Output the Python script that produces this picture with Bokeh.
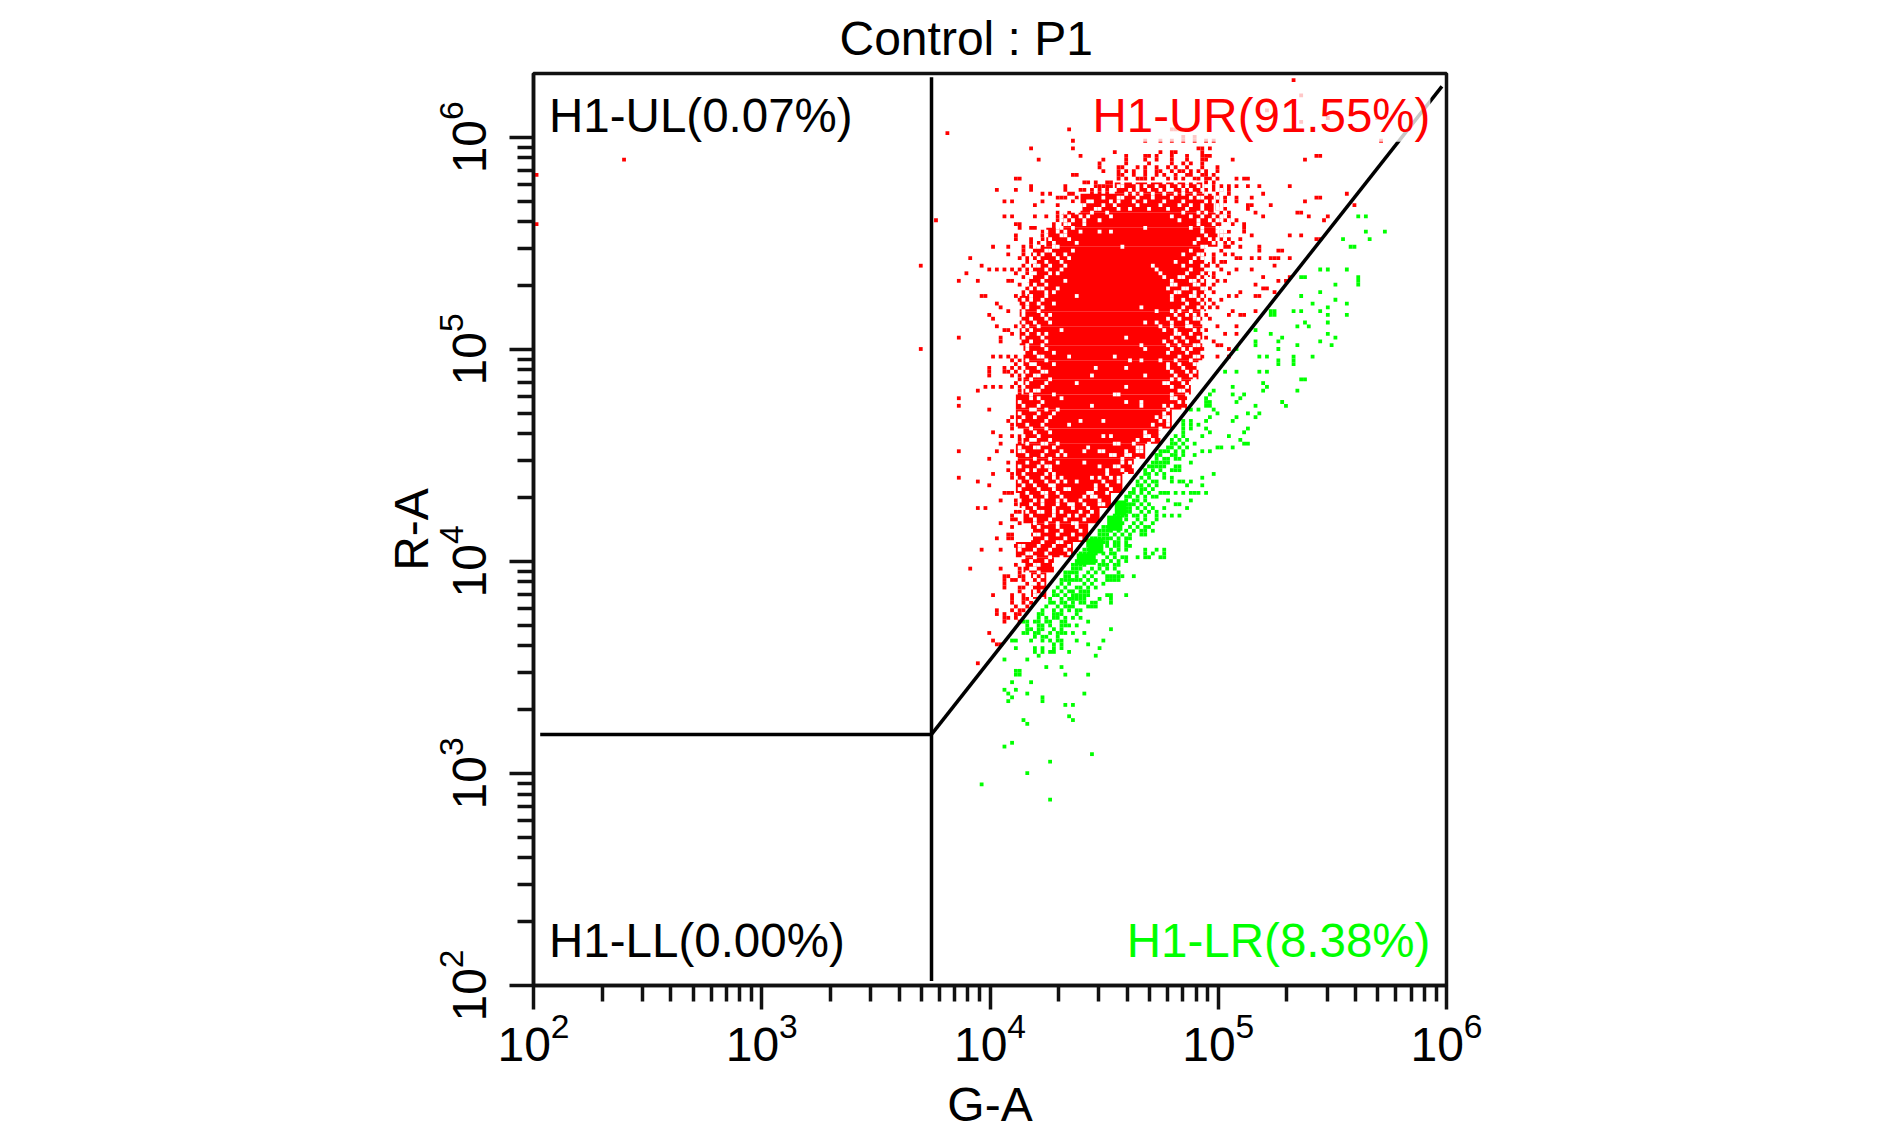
from bokeh.plotting import figure
from bokeh.embed import file_html
from bokeh.resources import INLINE
from bokeh.models import Label, FixedTicker, LogTickFormatter, LogAxis

title_text = "Control : P1"
x_label = "G-A"
y_label = "R-A"
x_range_limits = [1e2, 1e6]
y_range_limits = [1e2, 2e6]
major_ticks_x = [1e2, 1e3, 1e4, 1e5, 1e6]
major_ticks_y = [1e2, 1e3, 1e4, 1e5, 1e6]

# gate lines
gate_vertical_x = [5543, 5543]
gate_vertical_y = [105, 1.92e6]
gate_horizontal_x = [107, 5543]
gate_horizontal_y = [1528, 1528]
gate_diagonal_x = [5543, 9.55e5]
gate_diagonal_y = [1528, 1.74e6]

# events (60 per x decade, 56 per y decade)
CH_X = 60
CH_Y = 56
CH_X0 = 0.8
CH_Y0 = -0.9

# mostly filled part of the red population: left, right, bottom, top channel
red_core_l = [130,128,126,130,128,127,126,126,126,128,126,126,128,128,128,127,127,127,129,130,130,134,138,143,152]
red_core_r = [134,136,141,145,148,151,154,157,160,164,167,171,172,174,175,175,175,176,176,177,176,179,180,178,175]
red_core_b = [103,110,114,118,123,127,131,136,140,144,148,153,157,161,166,170,175,179,183,188,192,196,201,205,210]
red_core_t = [110,114,118,123,127,131,136,140,144,148,153,157,161,166,170,175,179,183,188,192,196,201,205,210,213]

green_core_l = [142, 145, 150, 152]
green_core_r = [147, 149, 154, 155]
green_core_b = [112, 115, 121, 125]
green_core_t = [115, 119, 125, 129]

# empty cells inside the filled part
hole_rows = {
 213:[154,157,161,165,168,171,173,177],212:[153,154,158,160,163,166,169,171,174,176,177,179],211:[152,156,158,161,164,166,167,170,172,175,177,179,180],210:[155,157,159,162,165,168,170,173,176,178,180],
 209:[149,153,154,158,162,167,172,174,175,179],208:[142,145,146,151,153,157,160,165,170,176,178,180],207:[141,143,144,149,152,158,164,169,172,175,179,181],
 206:[140,142,143,147,148,153,156,161,166,171,175,179,180],205:[138,139,142,146,150,170,174,176,179,181],204:[138,140,143,145,151,167,172,175,178,180,181],
 203:[138,139,141,144,148,169,174,177,179,180,182],202:[137,139,140,144,174,178,181,182],201:[137,138,141,160,172,175,179,180,182],200:[132,134,137,139,143,148,151,175,179,180],
 199:[131,134,138,139,176,180,181],198:[131,132,135,140,174,177,179,181],197:[131,133,136,142,173,178,180],196:[131,132,136,137,154,175,176,180],195:[130,134,135,141,172,176,177],
 194:[131,133,136,139,170,174,175],193:[130,132,137,140,173,175,176],192:[130,131,134,138,168,172,176],191:[131,132,135,139,162,170,175],190:[130,134,138,163,172,176,177],
 189:[130,131,135,137,164,171,175,177],188:[129,130,134,165,169,170,174,176],187:[129,133,139,167,172,173,175],186:[129,131,134,167,168,173,174],185:[130,132,133,137,166,170,171,175,176],
 184:[129,134,136,168,169,173,176],183:[130,134,142,167,172,173,175],182:[128,130,133,167,170,174,176],181:[129,132,136,171,175],180:[127,129,133,159,170,174,176],
 179:[128,132,163,167,169,172,175],178:[128,133,135,168,171,173,175],177:[127,130,134,166,169,173,174],176:[128,131,135,160,163,167,171,175],175:[127,129,132,164,167,171,172],
 174:[128,130,138,165,168,173,175],173:[129,132,134,168,169,172],172:[128,133,155,167,170,174],171:[127,130,134,165,168,171,175],170:[129,133,159,166,169,173,174],169:[129,134,160,167,170,172],
 168:[128,131,136,166,171,175],167:[127,132,133,140,152,169,173,174],166:[129,134,156,159,164,168,172],165:[127,130,131,136,166,169,173,174],164:[128,132,147,155,166,170,174],163:[129,133,134,167,171,173],
 162:[128,131,132,146,160,168,172],161:[130,135,167,169,173],160:[129,134,142,165,166,170,172],159:[128,133,155,167,171],158:[129,131,132,169,170],157:[130,136,152,153,167,171],
 156:[130,132,138,167,168],155:[127,133,155,159,169,171],154:[128,132,146,159,165,167],153:[130,131,134,137,166,170],152:[127,132,136,165,169,171],151:[128,131,135,163,165,166],
 150:[127,134,143,149,164,166],149:[129,133,140,162,166],148:[126,130,134,164],147:[127,131,135,160,164],146:[128,132,149,151,160,161,164],145:[130,131,135,158,162],
 144:[129,133,134,137,152,153,157,161],143:[127,131,132,136,145,158,159,163],142:[127,128,134,138,144,148,149,155,158,159],141:[129,133,137,139,151,152,155,156],140:[126,131,135,154,158],
 139:[129,133,137,144,154,156,158],138:[127,132,134,135,148,152,153,157],137:[129,131,135,150,154],136:[128,134,136,150,155],135:[126,129,133,136,138,146,148,151,153],
 134:[127,130,134,137,139,142,149,153],133:[128,131,135,136,147,150],132:[127,132,136,139,140,147,151],131:[129,133,134,137,145,146,150],130:[130,134,138,144,146,147,152],
 129:[127,131,133,137,139,143,148],128:[130,133,137,140,141,144,148,149],127:[128,131,136,141,145],126:[129,132,133,136,138,143,146],125:[130,136,140,142,145],124:[131,135,139,144],
 123:[131,134,137,141,142],122:[132,137,142],121:[130,134,138,143],120:[131,132,137,141],119:[130,134,139,143],118:[133,137,138],117:[127,128,132,136,140],116:[127,131,135,139],
 115:[129,130,134,140],114:[128,131,135,138],113:[130,134],112:[128,131,132,136],111:[130,131],110:[129,132],109:[131,133],108:[130,132],107:[130,131,133],106:[130],105:[129,131,133],104:[131,132],103:[130,133],
}

red_rows = {
 240:[199],236:[201],232:[192],230:[208,221],229:[201],
 227:[140,167,168,169,170,171,172],226:[108],225:[170,173],
 224:[141,160,164,167,170,173,176,178,222],222:[130,141,174,175,177],221:[152,164,167,168,175],
 220:[143,155,160,161,163,167,171,175,176,177,205,206],219:[23,132,149,155,160,163,167,171,175,176,183,202],
 218:[148,155,161,167,170,172,175],217:[148,153,154,158,160,163,166,168,171,175,179],
 216:[149,153,155,157,160,163,164,167,169,170,172,174,176,179],215:[0,141,142,153,154,157,160,163,165,168,171,172,175,176,178],
 214:[126,127,153,155,158,159,160,162,166,168,170,173,174,176,177,179,184,186,187],213:[144,145,147,150,151,176,178],212:[130,139,147,148,149,150,151,176,178,180,182,184,187,190,198],211:[121,126,130,139,143,144,146,148,150,176,178,180,182],
 210:[133,135,140,141,146,148,150,176,179,182,191,213],209:[137,138,139,142,145,179,181,184,188,205,206],208:[123,125,133,141,179,181,184,202],207:[131,137,179,181,187,188,193,215],206:[179,181,187],205:[137,140,180,182,189,200,201],
 204:[123,125,131,134,137,181,182,191,203,208],203:[105,137,181,182,184,207],202:[0,126,127,136,183,186],201:[127,130,131,136,186],200:[133,136,180,182,186],199:[126,133,180,181,188,198,201],198:[126,130,133,180,182,185,205,206],197:[130,132,181,183],
 196:[120,124,128,130,133,181,182,185,190],195:[128,132,180,190,195,196],194:[124,128,178,181,183],193:[114,127,129,178,184,185,188,190,193,194,195,198],192:[129,178,180,181],191:[101,117,128,179,194],
 190:[119,121,123,125,127,129,180,184,188],189:[113,126,129,178,182],188:[128,178,191,198],187:[111,116,124,125,179,181,195,197],186:[127,178,189],185:[129,177,191,192],
 184:[128,178,185,194],183:[117,118,126,128,182,184,189,190],182:[127,177,180],181:[121,178],180:[122,177,179],179:[124,183,189],178:[119,176,182,185,186],177:[120,177],
 175:[121,126,179,184],174:[123,124,176],173:[125,181,184],172:[111,122,176],171:[122,178],170:[179,180],169:[101,175,182],167:[120,122,124,126,175,179,182],166:[125,127],165:[126],
 164:[119,123,125,127],163:[119,123,124,126],162:[119,125,127],161:[127],160:[126],159:[118,120,122,125,127],158:[116,127],157:[127],156:[111,127],154:[111],153:[119],
 151:[125],150:[124],149:[125],148:[125],147:[120],146:[122,125,127],145:[127],144:[122,127],142:[111,121,125],140:[119],139:[124],137:[124],136:[120,125],135:[111,125],134:[116],133:[119],
 131:[123,124,125],129:[122,126],128:[126],127:[116,118],126:[126,127],125:[125],124:[125,126],123:[122,127],122:[125],120:[124,125],119:[121,124,125],117:[126],116:[117,122],
 113:[128],112:[126],111:[114,122,127],110:[127],109:[123,124,127,128],108:[123,125,126,128],107:[123,129],106:[123,127,128],105:[127],104:[120,125,128],103:[125,128,129],102:[125,128,130],101:[126,129],
 100:[121,125,127,128],99:[121,123,126,127],98:[123,124,126],97:[123,127],94:[119],92:[120],91:[121,122],86:[116],
}

green_rows = {
 204:[216,218],200:[218,223],198:[212,219],196:[214,215],190:[206,208,213],188:[201,202,216],187:[216],186:[210,216],184:[206],183:[201],182:[210],181:[204,213],180:[208],
 179:[193,194,199,201,206],178:[193,194,208,213],176:[202,208],175:[200,203],174:[189],173:[193,208],172:[196,210],171:[189,195,206],170:[189,200,209],169:[184,195],
 167:[190,192,199,204],166:[195,199],165:[195,199],163:[181,184,190,192],161:[201,202],160:[191],159:[183,192],158:[178,191,200],157:[177,183,186],156:[176,185],
 155:[176,177,184,196],154:[176,177,189,197],153:[172,174,178],152:[179,187,190],151:[177,184,189],150:[170,172,176,183],149:[170,172,174],148:[170,172,176,187],147:[170,177,186],
 146:[168,170,175,182],145:[167,169,171,185],144:[167,168,170,173,186,187],143:[166,167,169,171,179,180,183],142:[164,165,166,168,170,175,177],141:[163,164,167,168,170,173],
 140:[163,165,166,168,169],139:[162,163,164,165,166,172],138:[161,162,163,164,165,168,169],137:[160,162,164,167,168,169],136:[160,161,163,165,178],135:[159,161,165,167,175],
 134:[158,160,162,163,167,169,170,172],133:[158,159,161,163,171,175],132:[157,159,160,162],131:[156,157,159,161,164,165,166,168,170,172,173,174,176],130:[155,156,158,160,162,163],
 129:[155,157,158,160,166,172],128:[154,155,156,157,159,161,168,169],127:[153,154,155,156,158,160,162,165,171],126:[153,154,155,156,159,161,163],
 125:[152,153,154,155,157,158,160,163,165,167,169],124:[151,152,153,155,158,160,163],123:[151,152,154,157,159,162],122:[149,150,151,153,156,158,160,161],
 121:[148,149,150,151,153,155,157,159,160,162],120:[148,149,150,152,154,156,159,160],119:[146,147,148,149,150,151,153,155,156],118:[145,146,147,148,149,150,152,153,155],
 117:[145,146,147,148,150,152,153,155,156],116:[144,145,146,147,148,151,153,155,160,163,165],115:[143,144,145,146,147,149,151,152,160,162,165],
 114:[143,144,145,146,150,152,154,155,158,160,161,164,165],113:[142,143,144,145,147,149,151,153,155],112:[141,142,143,144,148,149,150,152,153],111:[141,142,143,146,148,150,152],
 110:[139,140,141,142,145,147,149,153],109:[139,140,142,144,146,150,151,152,153,154,157],108:[138,139,140,141,142,143,145,147,150,151,152,153],107:[138,140,144,146,149],
 106:[137,139,142,143,145,147],105:[136,138,140,141,143,144,145],104:[136,137,139,141,142,143,144,145,150,151,155],103:[135,138,140,141,142,143,144,148,151],
 102:[135,136,138,139,141,143,144,146,147,151],101:[134,137,139,140,141,145,146,147],100:[133,136,138,140,142,143],99:[132,133,136,137,138,142],98:[132,134,136,137,139,141,143],
 97:[128,129,131,132,134,135,138,139,145],96:[129,132,133,135,138,139,140,142],95:[129,130,132,133,136,138,151],94:[128,129,131,132,135,137,138,139,141,144],93:[131,133,134,137],
 92:[125,126,130,133,135,137,138,142,149],91:[136,138,145],90:[126,131,133,136,138,148],89:[131,133,135,136,140],88:[132,147],87:[123,129],85:[134,138],84:[126,127],83:[126,127,139,145],
 81:[125,130],79:[123,126],78:[124,129,144],77:[125,133],76:[124,133],75:[139,141],72:[140],71:[128,141],70:[129],65:[125],64:[123],62:[146],60:[135],57:[129],54:[117],50:[135],
}

def fx(c):
    return 10 ** (2 + (c + CH_X0) / CH_X)

def fy(c):
    return 10 ** (2 + (c + CH_Y0) / CH_Y)

def flatten(rows):
    xs, ys = [], []
    for row, cells in rows.items():
        for cell in cells:
            xs.append(fx(cell))
            ys.append(fy(row))
    return xs, ys

p = figure(
    width=1846, height=1125, output_backend="svg", toolbar_location=None,
    x_axis_type="log", y_axis_type="log",
    x_range=tuple(x_range_limits), y_range=tuple(y_range_limits),
    frame_width=913, frame_height=912,
    min_border_left=533, min_border_right=400, min_border_top=73, min_border_bottom=140,
    title=title_text,
)
p.background_fill_color = "white"
p.grid.visible = False
p.outline_line_color = "#111111"
p.outline_line_width = 3.5

FONT = "Liberation Sans"
p.title.text_font = FONT
p.title.text_font_size = "48px"
p.title.text_font_style = "normal"
p.title.text_color = "black"
p.title.align = "left"
p.title.offset = 306
p.title.standoff = 18
p.title.text_line_height = 1.0

for ax, lab in ((p.xaxis[0], x_label), (p.yaxis[0], y_label)):
    ax.axis_label = lab
    ax.axis_label_text_font = FONT
    ax.axis_label_text_font_size = "48px"
    ax.axis_label_text_font_style = "normal"
    ax.axis_label_text_color = "black"
    ax.major_label_text_font = FONT
    ax.major_label_text_font_size = "48px"
    ax.major_label_text_color = "black"
    ax.axis_line_color = "#111111"
    ax.axis_line_width = 3.5
    ax.major_tick_line_color = "#111111"
    ax.minor_tick_line_color = "#111111"
    ax.major_tick_line_width = 3.5
    ax.minor_tick_line_width = 3.5
    ax.major_tick_in = 0
    ax.minor_tick_in = 0
    ax.major_tick_out = 24
    ax.minor_tick_out = 16
    ax.formatter = LogTickFormatter()

minor_x = [m * d for d in major_ticks_x[:-1] for m in range(2, 10)]
minor_y = [m * d for d in major_ticks_y[:-1] for m in range(2, 10)]
p.xaxis[0].ticker = FixedTicker(ticks=major_ticks_x, minor_ticks=minor_x)
p.yaxis[0].ticker = FixedTicker(ticks=major_ticks_y, minor_ticks=minor_y)
p.xaxis[0].major_label_standoff = 2
p.yaxis[0].major_label_standoff = 24
p.yaxis[0].major_label_orientation = "vertical"
p.xaxis[0].axis_label_standoff = 14
p.yaxis[0].axis_label_standoff = -4

# tick at the top of the y axis, an unlabelled axis pinned on the frame's left edge
top_stub = LogAxis(ticker=FixedTicker(ticks=[y_range_limits[1]], minor_ticks=[]), fixed_location=x_range_limits[0],
                   major_label_overrides={2000000: ""}, major_label_text_color=None,
                   axis_line_color=None, minor_tick_line_color=None,
                   major_tick_line_color="#111111", major_tick_line_width=3.5, major_tick_in=0, major_tick_out=24)
p.add_layout(top_stub, "left")

# populations
p.quad(left=[fx(c) for c in red_core_l], right=[fx(c) for c in red_core_r],
       bottom=[fy(c) for c in red_core_b], top=[fy(c) for c in red_core_t],
       fill_color="#ff0000", line_color=None)
rx, ry = flatten(red_rows)
hx, hy = flatten(hole_rows)
gx, gy = flatten(green_rows)
p.scatter(rx, ry, marker="square", size=3.8, fill_color="#ff0000", line_color=None)
p.scatter(hx, hy, marker="square", size=3.8, fill_color="white", line_color=None)
p.quad(left=[fx(c) for c in green_core_l], right=[fx(c) for c in green_core_r],
       bottom=[fy(c) for c in green_core_b], top=[fy(c) for c in green_core_t],
       fill_color="#00ff00", line_color=None)
p.scatter(gx, gy, marker="square", size=3.8, fill_color="#00ff00", line_color=None)

# gates
p.line(gate_vertical_x, gate_vertical_y, line_color="black", line_width=3.5)
p.line(gate_horizontal_x, gate_horizontal_y, line_color="black", line_width=3.5)
p.line(gate_diagonal_x, gate_diagonal_y, line_color="black", line_width=3.5)

# quadrant labels
labels = [
    ("H1-UL(0.07%)", 117, 1.27e6, "left", "black", 0),
    ("H1-LL(0.00%)", 117, 163, "left", "black", 0),
    ("H1-UR(91.55%)", 8.5e5, 1.27e6, "right", "#ff0000", 0.78),
    ("H1-LR(8.38%)", 8.5e5, 163, "right", "#00ff00", 0),
]
for text, lx, ly, align, color, alpha in labels:
    p.add_layout(Label(
        x=lx, y=ly, text=text, text_align=align, text_baseline="alphabetic",
        text_font=FONT, text_font_size="47.5px", text_color=color,
        background_fill_color="white" if alpha else None, background_fill_alpha=alpha,
    ))

open("out.html", "w").write(file_html(p, INLINE))
